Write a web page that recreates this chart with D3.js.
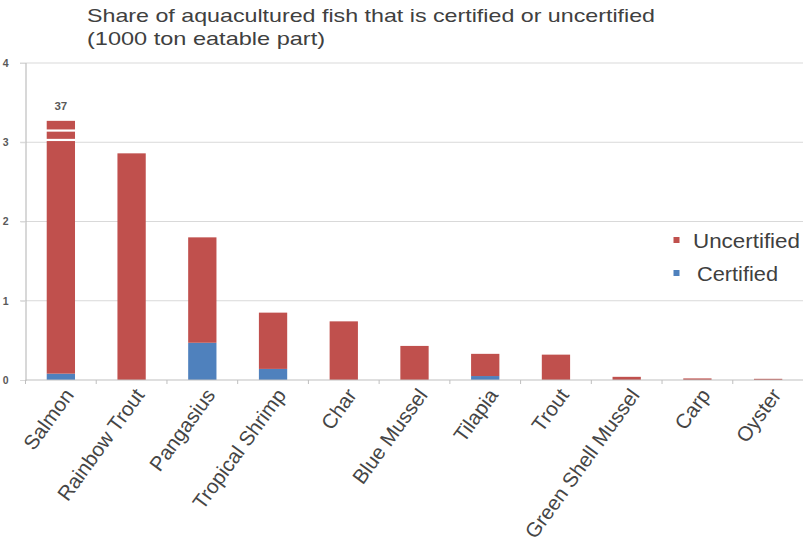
<!DOCTYPE html>
<html>
<head>
<meta charset="utf-8">
<script src="https://cdn.jsdelivr.net/npm/d3@7"></script>
<style>
  html, body { margin: 0; padding: 0; background: #fff; }
  svg { display: block; font-family: "Liberation Sans", Arial, sans-serif; }
</style>
</head>
<body>
<svg id="chart" width="803" height="551"></svg>
<script>
// Aquacultured fish, 1000 ton eatable part
const species = ["Salmon", "Rainbow Trout", "Pangasius", "Tropical Shrimp", "Char",
  "Blue Mussel", "Tilapia", "Trout", "Green Shell Mussel", "Carp", "Oyster"];
const certified   = [0.08, 0, 0.47, 0.14, 0, 0, 0.05, 0, 0, 0, 0];
const uncertified = [36.92, 2.86, 1.33, 0.71, 0.74, 0.43, 0.28, 0.32, 0.04, 0.02, 0.015];
const yTicks = [0, 1, 2, 3, 4];
const seriesNames = ["Uncertified", "Certified"];
// bars taller than this are drawn cut off with a break marker and a value label
const breakCap = 3.27;

const colors = { Certified: "#4F81BD", Uncertified: "#C0504D" };

const svg = d3.select("#chart");
const margin = { left: 25.5, right: 803.5, top: 63, bottom: 380 };

const x = d3.scaleBand().domain(species).range([margin.left, margin.right]).padding(0);
const y = d3.scaleLinear().domain([0, 4]).range([margin.bottom, margin.top]);
const barW = x.bandwidth() * 0.4;

// title (wide lettering)
const title = svg.append("g").attr("fill", "#404040").attr("font-size", 19);
title.append("text").attr("x", 87).attr("y", 22)
  .attr("textLength", 568).attr("lengthAdjust", "spacingAndGlyphs")
  .text("Share of aquacultured fish that is certified or uncertified");
title.append("text").attr("x", 87).attr("y", 45)
  .attr("textLength", 238).attr("lengthAdjust", "spacingAndGlyphs")
  .text("(1000 ton eatable part)");

// horizontal gridlines
svg.append("g").selectAll("line").data(yTicks.slice(1)).join("line")
  .attr("x1", 20).attr("x2", 803)
  .attr("y1", d => y(d)).attr("y2", d => y(d))
  .attr("stroke", "#d9d9d9").attr("stroke-width", 1.2);

// y axis
const yAxis = svg.append("g").attr("transform", `translate(${margin.left},0)`)
  .call(d3.axisLeft(y).tickValues(yTicks).tickSize(5).tickPadding(12).tickFormat(d3.format("d")));
yAxis.select(".domain").attr("stroke", "#bfbfbf").attr("stroke-width", 1.2);
yAxis.selectAll(".tick line").attr("stroke", "#d9d9d9");
yAxis.selectAll(".tick text").attr("fill", "#595959").attr("font-size", 10.5)
  .attr("font-weight", "bold").attr("font-family", "Liberation Sans, Arial, sans-serif");

// stacked bars
const rows = species.map((s, i) => ({ species: s, Certified: certified[i], Uncertified: uncertified[i] }));
const stack = d3.stack().keys(["Certified", "Uncertified"]);
const layers = stack(rows);

svg.append("g").selectAll("g").data(layers).join("g")
  .attr("fill", d => colors[d.key])
  .selectAll("rect").data(d => d).join("rect")
  .attr("x", d => x(d.data.species) + (x.bandwidth() - barW) / 2)
  .attr("width", barW)
  .attr("y", d => y(Math.min(d[1], breakCap)))
  .attr("height", d => Math.max(0, y(Math.min(d[0], breakCap)) - y(Math.min(d[1], breakCap))));

// break markers and value labels for bars exceeding the axis
rows.forEach(r => {
  const total = r.Certified + r.Uncertified;
  if (total <= breakCap) return;
  const cx = x(r.species) + x.bandwidth() / 2;
  const top = y(breakCap);
  [8.6, 18].forEach(off => {
    svg.append("rect").attr("x", cx - barW / 2 - 1).attr("width", barW + 2)
      .attr("y", top + off).attr("height", 2.2).attr("fill", "#fff");
  });
  svg.append("text").attr("x", cx).attr("y", top - 11)
    .attr("text-anchor", "middle").attr("font-size", 11.5).attr("font-weight", "bold")
    .attr("fill", "#595959").text(d3.format("d")(total));
});

// x axis with category boundary ticks
const xg = svg.append("g");
xg.append("line").attr("x1", margin.left).attr("x2", 803)
  .attr("y1", margin.bottom).attr("y2", margin.bottom)
  .attr("stroke", "#bfbfbf").attr("stroke-width", 1.2);
xg.selectAll("line.tk").data(species.map(s => x(s)).concat([margin.right])).join("line")
  .attr("class", "tk")
  .attr("x1", d => d).attr("x2", d => d)
  .attr("y1", margin.bottom).attr("y2", margin.bottom + 4)
  .attr("stroke", "#bfbfbf");
xg.selectAll("text").data(species).join("text")
  .attr("transform", d => `translate(${x(d) + x.bandwidth() / 2 + 8},${margin.bottom + 11}) rotate(-54)`)
  .attr("text-anchor", "end").attr("dy", "0.35em")
  .attr("font-size", 20.5).attr("fill", "#454545")
  .text(d => d);

// legend
const legend = svg.append("g");
const legendWidths = [107, 81];
seriesNames.forEach((n, i) => {
  const ly = 240 + i * 33;
  legend.append("rect").attr("x", 673.5).attr("y", ly - 3).attr("width", 6).attr("height", 6)
    .attr("fill", colors[n]);
  legend.append("text").attr("x", i === 0 ? 693 : 697).attr("y", ly + 8)
    .attr("font-size", 20).attr("fill", "#404040")
    .attr("textLength", legendWidths[i]).attr("lengthAdjust", "spacingAndGlyphs")
    .text(n);
});
</script>
</body>
</html>
